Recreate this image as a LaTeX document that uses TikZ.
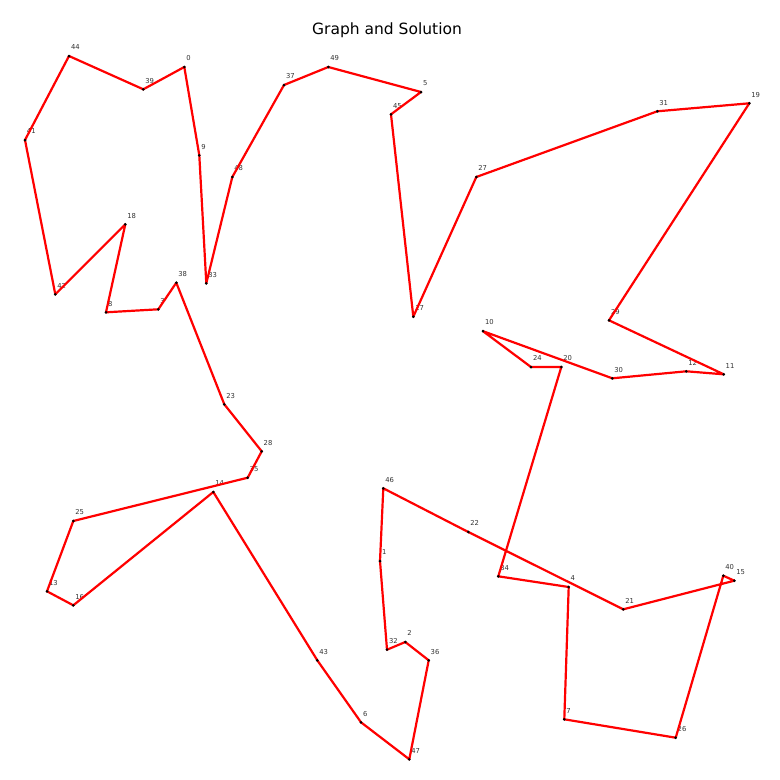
\documentclass[tikz,border=0pt]{standalone}
\usepackage{fontspec}
\setmainfont{DejaVu Sans}
\newcommand{\tsppt}[3]{%
  \coordinate (p#1) at (#2,#3);
  \node[lbl] (l#1) at (#2+1.8,#3-6.3) {#1};}
\begin{document}
\begin{tikzpicture}[x=1pt,y=-1pt,
  dotmark/.style={circle,fill=black,draw=none,inner sep=0pt,minimum size=3pt},
  lbl/.style={font=\fontsize{6.8}{7}\selectfont,text=black!80,anchor=base west,inner sep=0pt},
  tour/.style={draw=red,line width=2.2pt,line join=round}]
\useasboundingbox (0,0) rectangle (780,780);
\node[font=\fontsize{15.5}{17}\selectfont,anchor=base] (title) at (387,34.5) {Graph and Solution};
\tsppt{0}{184.3}{67}
\tsppt{1}{380}{561}
\tsppt{2}{405.3}{642}
\tsppt{3}{158.3}{309.3}
\tsppt{4}{568.7}{587}
\tsppt{5}{421}{92}
\tsppt{6}{361}{722.3}
\tsppt{7}{564.3}{719.3}
\tsppt{8}{106}{312.3}
\tsppt{9}{199.3}{155.3}
\tsppt{10}{483}{331.2}
\tsppt{11}{723.7}{374.3}
\tsppt{12}{686.3}{371.3}
\tsppt{13}{47}{591.3}
\tsppt{14}{213.3}{492}
\tsppt{15}{734.3}{580.7}
\tsppt{16}{73.3}{605.3}
\tsppt{17}{413.3}{316.7}
\tsppt{18}{125.3}{224.3}
\tsppt{19}{749.3}{103.3}
\tsppt{20}{561.3}{367}
\tsppt{21}{623.3}{609.3}
\tsppt{22}{468.3}{532}
\tsppt{23}{224.3}{404.3}
\tsppt{24}{531}{367}
\tsppt{25}{73.3}{521}
\tsppt{26}{675.7}{737.7}
\tsppt{27}{476.3}{177}
\tsppt{28}{261.7}{451.3}
\tsppt{29}{609}{320.3}
\tsppt{30}{612.3}{378.3}
\tsppt{31}{657.3}{111.3}
\tsppt{32}{387}{649.7}
\tsppt{33}{206.3}{283.3}
\tsppt{34}{498.3}{576.3}
\tsppt{35}{247.7}{477.7}
\tsppt{36}{428.7}{660.3}
\tsppt{37}{284}{85}
\tsppt{38}{176.3}{282.7}
\tsppt{39}{143.3}{89.3}
\tsppt{40}{723.3}{575.7}
\tsppt{41}{25}{140}
\tsppt{42}{55.3}{294.3}
\tsppt{43}{317.3}{660.3}
\tsppt{44}{69}{56}
\tsppt{45}{391}{114.3}
\tsppt{46}{383.3}{488.3}
\tsppt{47}{409.3}{759.3}
\tsppt{48}{232.3}{177}
\tsppt{49}{328.3}{67}
\draw[tour] (p0) -- (p39) -- (p44) -- (p41) -- (p42) -- (p18) -- (p8) -- (p3)
  -- (p38) -- (p23) -- (p28) -- (p35) -- (p25) -- (p13) -- (p16) -- (p14)
  -- (p43) -- (p6) -- (p47) -- (p36) -- (p2) -- (p32) -- (p1) -- (p46)
  -- (p22) -- (p21) -- (p15) -- (p40) -- (p26) -- (p7) -- (p4) -- (p34)
  -- (p20) -- (p24) -- (p10) -- (p30) -- (p12) -- (p11) -- (p29) -- (p19)
  -- (p31) -- (p27) -- (p17) -- (p45) -- (p5) -- (p49) -- (p37) -- (p48)
  -- (p33) -- (p9) -- cycle;
\foreach \i in {0,...,49} {\node[dotmark] (d\i) at (p\i) {};}
\end{tikzpicture}
\end{document}
